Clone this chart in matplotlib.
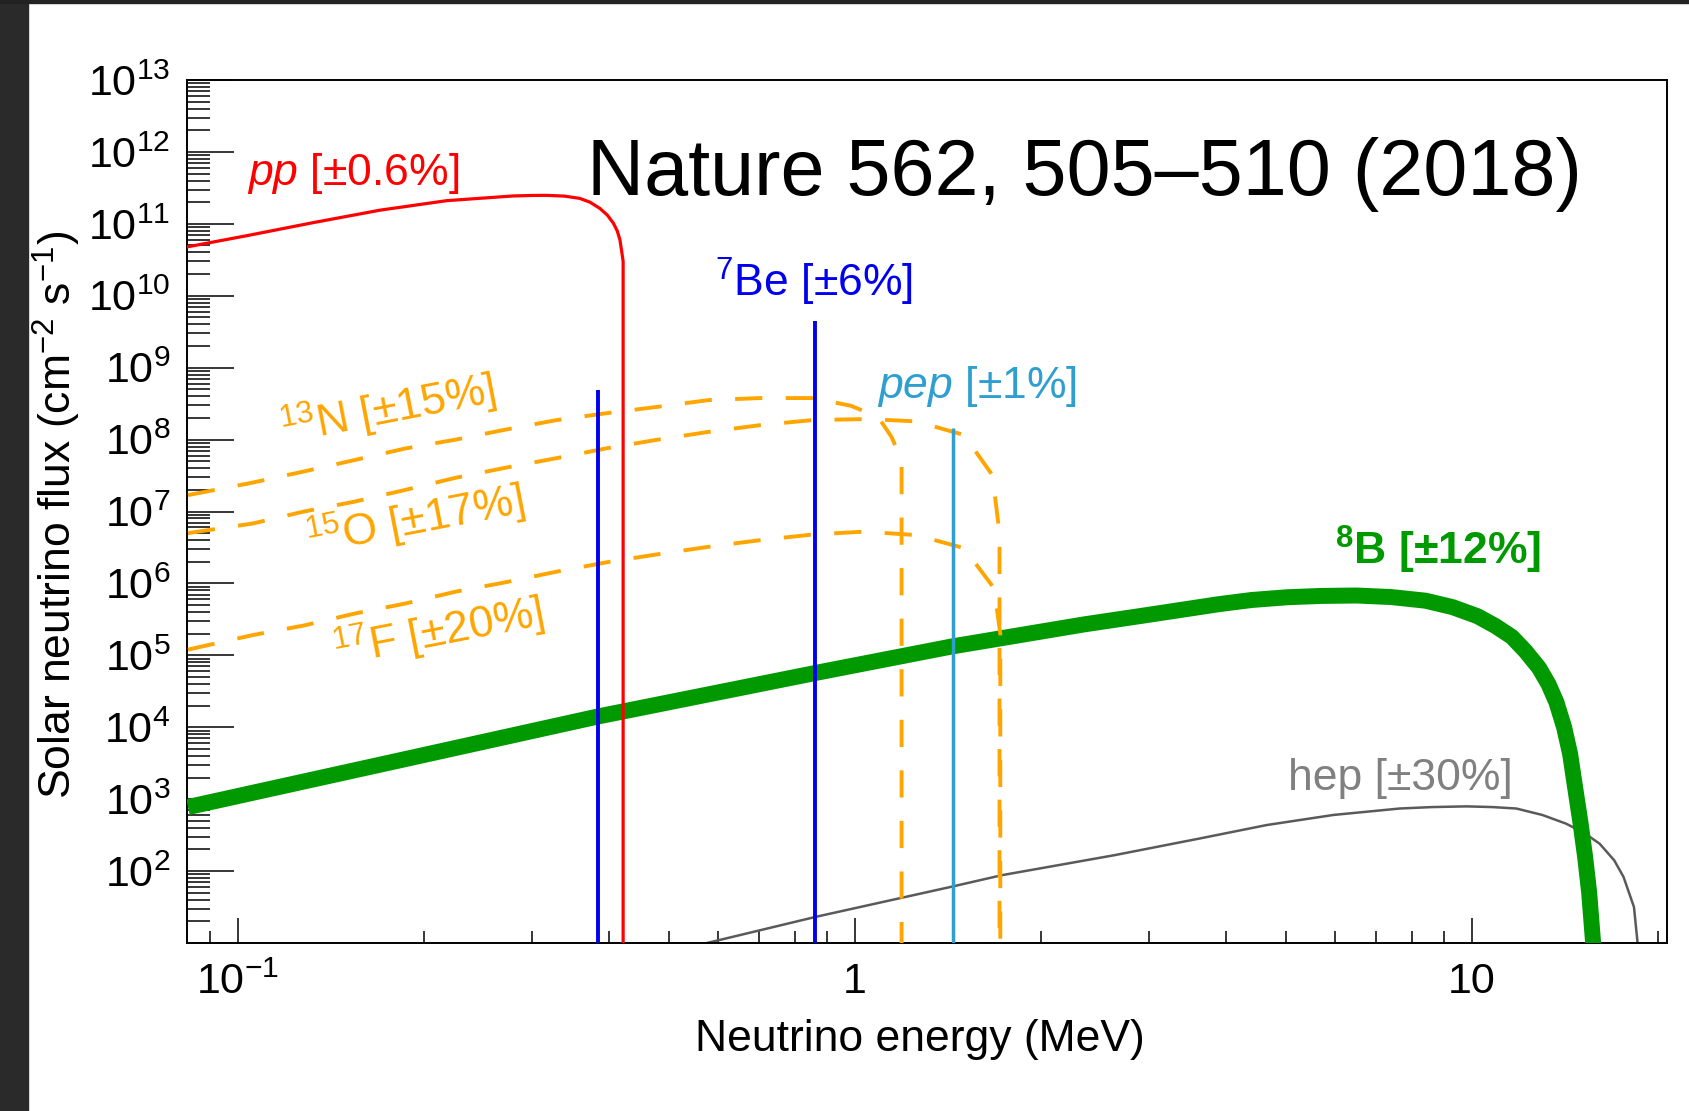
# Solar neutrino spectra (after Nature 562, 505-510, 2018)
import numpy as np
import matplotlib
matplotlib.use('Agg')
import matplotlib.pyplot as plt
from matplotlib.ticker import FixedLocator, FixedFormatter, LogLocator, NullFormatter
from matplotlib.patches import Rectangle

# ---- values (energy in MeV, flux in cm^-2 s^-1 [MeV^-1]) ----
pp_energy = [0.083, 0.103, 0.1325, 0.170, 0.218, 0.279, 0.300, 0.316, 0.338, 0.358, 0.372,
             0.386, 0.397, 0.406, 0.412, 0.416, 0.419, 0.421, 0.421]
pp_flux   = [4.8e10, 6.8e10, 1.04e11, 1.55e11, 2.1e11, 2.44e11, 2.48e11, 2.49e11, 2.43e11, 2.26e11, 2.0e11,
             1.64e11, 1.32e11, 1.02e11, 7.9e10, 6.0e10, 4.0e10, 3.0e10, 1.0]

be7_energy = [0.384, 0.862]
be7_flux   = [4.9e8, 4.5e9]

pep_energy = [1.44]
pep_flux   = [1.44e8]

n13_energy = [0.083, 0.1056, 0.1277, 0.1545, 0.1865, 0.2256, 0.2719, 0.3289, 0.3977, 0.480, 0.579, 0.703, 0.855, 0.985, 1.09, 1.146, 1.19, 1.19]
n13_flux   = [1.69e7, 2.52e7, 3.59e7, 5.19e7, 7.5e7, 1.0e8, 1.38e8, 1.87e8, 2.34e8, 2.86e8, 3.54e8, 3.78e8, 3.78e8, 2.95e8, 2.07e8, 1.09e8, 5.2e7, 1.0]

o15_energy = [0.083, 0.1056, 0.1277, 0.1545, 0.1865, 0.2256, 0.2719, 0.3289, 0.3977, 0.480, 0.579, 0.703, 0.855, 1.05, 1.256, 1.502, 1.67, 1.715, 1.715]
o15_flux   = [5.0e6, 6.8e6, 9.95e6, 1.37e7, 1.99e7, 2.95e7, 4.07e7, 5.53e7, 7.62e7, 1.0e8, 1.28e8, 1.59e8, 1.87e8, 1.93e8, 1.79e8, 1.16e8, 3.2e7, 5.0e6, 1.0]

f17_energy = [0.083, 0.1056, 0.1277, 0.1545, 0.1865, 0.2256, 0.2719, 0.3289, 0.3977, 0.480, 0.579, 0.703, 0.855, 1.036, 1.256, 1.502, 1.68, 1.72, 1.72]
f17_flux   = [1.2e5, 1.91e5, 2.59e5, 3.8e5, 5.24e5, 7.69e5, 1.04e6, 1.46e6, 1.98e6, 2.55e6, 3.23e6, 4.0e6, 4.79e6, 5.25e6, 4.7e6, 3.1e6, 8.6e5, 2.0e5, 1.0]

b8_energy = [0.083, 0.183, 0.383, 0.857, 1.43, 2.35, 3.01, 3.89, 4.4, 5.03, 5.7, 6.50, 7.4, 8.41, 9.3,
             10.2, 10.9, 11.6, 12.2, 12.84, 13.3, 13.7, 14.1, 14.42, 14.7, 14.99, 15.25, 15.48, 15.78]
b8_flux   = [776, 3.47e3, 1.41e4, 5.62e4, 1.32e5, 2.69e5, 3.69e5, 5.15e5, 5.89e5, 6.43e5, 6.70e5, 6.79e5, 6.46e5, 5.75e5, 4.68e5,
             3.51e5, 2.57e5, 1.81e5, 1.15e5, 6.7e4, 3.98e4, 2.23e4, 1.0e4, 4.25e3, 1.41e3, 468, 158, 51, 6.3]

hep_energy = [0.55, 0.864, 1.43, 1.73, 2.63, 3.62, 4.65, 5.96, 7.63, 8.6, 9.8, 10.8, 11.8, 13.0, 14.2, 15.2, 16.1, 17.0, 17.6, 18.3, 18.6]
hep_flux   = [9.1, 23.1, 60.3, 87.7, 166, 284, 437, 603, 741, 776, 794, 776, 741, 603, 457, 339, 240, 141, 83, 31.6, 7.9]

x_tick_values = [0.1, 1, 10]
x_tick_labels = [r'$10^{-1}$', '1', '10']
y_tick_exponents = list(range(2, 14))

# ---- fonts ----
plt.rcParams['font.family'] = ['Liberation Sans', 'DejaVu Sans']
plt.rcParams['mathtext.fontset'] = 'custom'
plt.rcParams['mathtext.rm'] = 'Liberation Sans'
plt.rcParams['mathtext.it'] = 'Liberation Sans:italic'
plt.rcParams['mathtext.bf'] = 'Liberation Sans:bold'

W, H = 1690, 1111
fig = plt.figure(figsize=(W / 100, H / 100), dpi=100)
fig.patches.append(Rectangle((0, 0), 28 / W, 1, transform=fig.transFigure,
                             color='#2a2a2a', zorder=0))
fig.patches.append(Rectangle((0, 1 - 3 / H), 1, 3 / H, transform=fig.transFigure,
                             color='#222222', zorder=0))

ax = fig.add_axes([187 / W, 1 - 943 / H, (1667 - 187) / W, (943 - 80) / H])
ax.set_xscale('log')
ax.set_yscale('log')
ax.set_xlim(0.0827, 20.7)
ax.set_ylim(10, 1e13)

# curves
ax.plot(hep_energy, hep_flux, color='#5a5a5a', lw=1.8, zorder=2)
ax.plot(b8_energy, b8_flux, color='#009900', lw=11.5, solid_capstyle='butt',
        solid_joinstyle='round', zorder=3)
ax.plot(pp_energy, pp_flux, color='#ff0000', lw=2.3, zorder=4)
for e, f in [(n13_energy, n13_flux), (o15_energy, o15_flux), (f17_energy, f17_flux)]:
  ax.plot(e, f, color='#ffa500', lw=2.8, dashes=(7, 6), zorder=5)
ax.vlines(be7_energy, 1, be7_flux, color='#0000ee', lw=2.8, zorder=6)
ax.vlines(pep_energy, 1, pep_flux, color='#2e9fd0', lw=2.5, zorder=6)

# labels of the sources
lab = 32
ax.text(0.1034, 3.47e11, r'$\mathit{pp}$ [±0.6%]', color='#ff0000', fontsize=lab, va='baseline')
ax.text(0.593, 9.7e9, r'$^{7}$Be [±6%]', color='#0000ee', fontsize=lab, va='baseline')
ax.text(1.086, 3.74e8, r'$\mathit{pep}$ [±1%]', color='#2e9fd0', fontsize=lab, va='baseline')
ax.text(6.0, 1.8e6, r'$^{\mathbf{8}}$B [±12%]', color='#009900', fontsize=lab,
        fontweight='bold', va='baseline')
ax.text(5.03, 1.33e3, 'hep [±30%]', color='#808080', fontsize=lab, va='baseline')
for txt, ex, fy in [(r'$^{13}$N [±15%]', 0.175, 2.57e8),
                    (r'$^{15}$O [±17%]', 0.194, 7.6e6),
                    (r'$^{17}$F [±20%]', 0.211, 2.12e5)]:
  ax.text(ex, fy, txt, color='#ffa500', fontsize=lab, rotation=11,
          rotation_mode='anchor', ha='center', va='center')

# ticks
ax.xaxis.set_major_locator(FixedLocator(x_tick_values))
ax.xaxis.set_major_formatter(FixedFormatter(x_tick_labels))
ax.xaxis.set_minor_locator(LogLocator(base=10, subs=np.arange(2, 10), numticks=50))
ax.xaxis.set_minor_formatter(NullFormatter())
ax.yaxis.set_major_locator(FixedLocator([10.0 ** k for k in y_tick_exponents]))
ax.yaxis.set_major_formatter(FixedFormatter([r'$10^{%d}$' % k for k in y_tick_exponents]))
ax.yaxis.set_minor_locator(LogLocator(base=10, subs=np.arange(2, 10), numticks=50))
ax.yaxis.set_minor_formatter(NullFormatter())

ax.tick_params(which='both', direction='in', top=False, right=False)
ax.tick_params(axis='y', which='major', length=34, width=1.1, labelsize=31, pad=12)
ax.tick_params(axis='y', which='minor', length=16.5, width=1.1)
ax.tick_params(axis='x', which='major', length=18, width=1.1, labelsize=31, pad=14)
ax.tick_params(axis='x', which='minor', length=9, width=1.1)
for s in ax.spines.values():
  s.set_linewidth(1.4)

# axis titles and heading
fig.text(920 / W, 1 - 1040 / H, 'Neutrino energy (MeV)', fontsize=32, ha='center', va='center')
fig.text(57 / W, 1 - 515 / H, r'Solar neutrino flux (cm$^{-2}$ s$^{-1}$)', fontsize=32,
         rotation=90, ha='center', va='center')
fig.text(587 / W, 1 - 195 / H, 'Nature 562, 505–510 (2018)', fontsize=57,
         ha='left', va='baseline')

fig.savefig('out.png', dpi=100)
